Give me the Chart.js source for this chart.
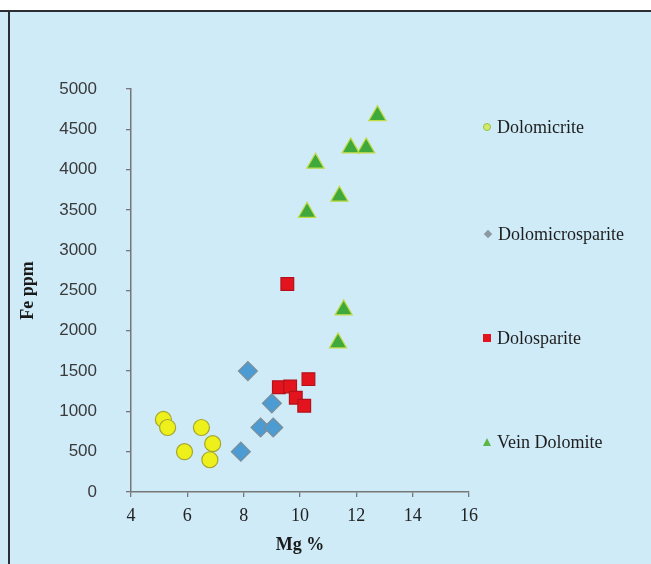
<!DOCTYPE html>
<html>
<head>
<meta charset="utf-8">
<script src="https://cdn.jsdelivr.net/npm/chart.js@4/dist/chart.umd.min.js"></script>
<style>
  html, body { margin: 0; padding: 0; }
  body { width: 651px; height: 564px; background: #cfebf8; position: relative; overflow: hidden; }
  #topWhite { position: absolute; left: 0; top: 0; width: 651px; height: 10px; background: #ffffff; }
  #topLine { position: absolute; left: 0; top: 10px; width: 651px; height: 2px; background: #2b2f34; }
  #leftLine { position: absolute; left: 8px; top: 10px; width: 2px; height: 554px; background: #2b2f34; }
  #wrap { position: absolute; left: 0; top: 0; width: 651px; height: 564px; }
  #legend { position: absolute; left: 0; top: 0; width: 651px; height: 564px; pointer-events: none; }
  .item { position: absolute; left: 483px; height: 20px; display: flex; align-items: center;
          font-family: "Liberation Serif", "Times New Roman", serif; font-size: 18px; color: #1d1d1d; }
  .mk { display: inline-block; margin-right: 6px; }
</style>
</head>
<body>
<div id="topWhite"></div>
<div id="topLine"></div>
<div id="leftLine"></div>
<div id="wrap"><canvas id="c" width="651" height="564"></canvas></div>
<div id="legend"></div>
<script>
// ---- data ----
const seriesNames = ["Dolomicrite", "Dolomicrosparite", "Dolosparite", "Vein Dolomite"];

const dolomicriteMg = [5.15, 5.3, 5.9, 6.5, 6.9, 6.8];
const dolomicriteFe = [900, 800, 500, 800, 600, 400];

const dolomicrosparMg = [8.15, 7.9, 9.0, 8.6, 9.05];
const dolomicrosparFe = [1500, 500, 1100, 800, 800];

const dolosparMg = [9.55, 9.25, 9.65, 9.85, 10.15, 10.3];
const dolosparFe = [2580, 1300, 1310, 1170, 1070, 1400];

const veinMg = [12.75, 11.8, 12.35, 10.55, 11.4, 10.25, 11.55, 11.35];
const veinFe = [4670, 4270, 4270, 4080, 3670, 3470, 2260, 1850];

const xTicks = [4, 6, 8, 10, 12, 14, 16];
const yTicks = [0, 500, 1000, 1500, 2000, 2500, 3000, 3500, 4000, 4500, 5000];

// ---- styles ----
const styles = [
  { pointStyle: "circle",  radius: 8,   fill: "#eef01c", border: "#a3a52e" },
  { pointStyle: "rectRot", radius: 9.5, fill: "#4d9bd3", border: "#7d8e96" },
  { pointStyle: "rect",    radius: 9,   fill: "#e3141d", border: "#b3121a" },
  { pointStyle: "triangle",radius: 10,  fill: "#3fa93b", border: "#c3dc46" }
];
const legendMarks = [
  { shape: "circle",   fill: "#d8e86a", border: "#8cc63f", size: 8 },
  { shape: "diamond",  fill: "#8b9aa0", border: "#8b9aa0", size: 7 },
  { shape: "square",   fill: "#e3141d", border: "#e3141d", size: 8 },
  { shape: "triangle", fill: "#5cb646", border: "#5cb646", size: 8 }
];
const legendTops = [117, 224, 328, 432];

const pairs = (xs, ys) => xs.map((x, i) => ({ x: x, y: ys[i] }));
const allData = [
  pairs(dolomicriteMg, dolomicriteFe),
  pairs(dolomicrosparMg, dolomicrosparFe),
  pairs(dolosparMg, dolosparFe),
  pairs(veinMg, veinFe)
];

const datasets = allData.map((d, i) => ({
  label: seriesNames[i],
  data: d,
  pointStyle: styles[i].pointStyle,
  pointRadius: styles[i].radius,
  pointHoverRadius: styles[i].radius,
  backgroundColor: styles[i].fill,
  borderColor: styles[i].border,
  pointBorderWidth: 1.2,
  showLine: false
}));

const serif = "'Liberation Serif', 'Times New Roman', serif";
const sans = "'Liberation Sans', Arial, sans-serif";

new Chart(document.getElementById("c"), {
  type: "scatter",
  data: { datasets },
  options: {
    responsive: false,
    animation: false,
    layout: { padding: { left: 0, top: 89, right: 182, bottom: 0 } },
    plugins: { legend: { display: false }, tooltip: { enabled: false } },
    scales: {
      x: {
        type: "linear", min: 4, max: 16,
        afterBuildTicks: s => { s.ticks = xTicks.map(v => ({ value: v })); },
        afterFit: s => { s.height = 564 - 492; },
        grid: { drawOnChartArea: false, drawTicks: true, tickLength: 5, color: "#777", lineWidth: 1.3 },
        border: { color: "#777", width: 1.5 },
        ticks: { padding: 8, color: "#222", font: { family: serif, size: 18 }, maxRotation: 0,
                 callback: v => String(v) },
        title: { display: true, text: "Mg %", color: "#1a1a1a", padding: { top: 0, bottom: 8 },
                 font: { family: serif, size: 18, weight: "bold" } }
      },
      y: {
        type: "linear", min: 0, max: 5000,
        afterBuildTicks: s => { s.ticks = yTicks.map(v => ({ value: v })); },
        afterFit: s => { s.width = 131; },
        grid: { drawOnChartArea: false, drawTicks: true, tickLength: 5, color: "#777", lineWidth: 1.3 },
        border: { color: "#777", width: 1.5 },
        ticks: { padding: 29, color: "#3a3a3a", font: { family: sans, size: 17 },
                 callback: v => String(v) },
        title: { display: true, text: "Fe ppm", color: "#1a1a1a", padding: { top: 18, bottom: 0 },
                 font: { family: serif, size: 18, weight: "bold" } }
      }
    }
  }
});

// ---- legend (HTML, real text) ----
const leg = document.getElementById("legend");
seriesNames.forEach((name, i) => {
  const m = legendMarks[i];
  const item = document.createElement("div");
  item.className = "item";
  item.style.top = legendTops[i] + "px";
  const mk = document.createElement("span");
  mk.className = "mk";
  if (m.shape === "circle") {
    mk.style.cssText += `width:${m.size-2}px;height:${m.size-2}px;border-radius:50%;background:${m.fill};border:1.5px solid ${m.border};`;
  } else if (m.shape === "diamond") {
    mk.style.cssText += `width:${m.size-1}px;height:${m.size-1}px;background:${m.fill};transform:rotate(45deg);margin-left:2px;margin-right:7px;`;
  } else if (m.shape === "square") {
    mk.style.cssText += `width:${m.size}px;height:${m.size}px;background:${m.fill};`;
  } else {
    mk.style.cssText += `width:0;height:0;border-left:${m.size/2}px solid transparent;border-right:${m.size/2}px solid transparent;border-bottom:${m.size}px solid ${m.fill};`;
  }
  const t = document.createElement("span");
  t.textContent = name;
  item.appendChild(mk);
  item.appendChild(t);
  leg.appendChild(item);
});
</script>
</body>
</html>
